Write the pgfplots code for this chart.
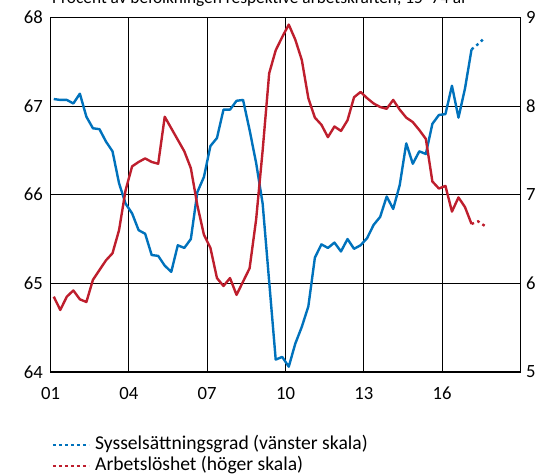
\documentclass[border=0pt]{standalone}
\usepackage{fontspec}
\setmainfont{Carlito}
\usepackage{pgfplots}
\pgfplotsset{compat=1.18}
\usepackage{pgfplotstable}
\definecolor{rbblue}{RGB}{0,114,188}
\definecolor{rbred}{RGB}{190,30,45}

% x = year (mid-quarter), b = Sysselsättningsgrad (left), r = Arbetslöshet (right)
\pgfplotstableread{
x b r
2001.125 67.08 5.85
2001.375 67.07 5.70
2001.625 67.07 5.85
2001.875 67.03 5.92
2002.125 67.14 5.82
2002.375 66.88 5.79
2002.625 66.75 6.04
2002.875 66.74 6.15
2003.125 66.60 6.26
2003.375 66.49 6.34
2003.625 66.13 6.60
2003.875 65.90 7.05
2004.125 65.79 7.32
2004.375 65.60 7.37
2004.625 65.56 7.41
2004.875 65.32 7.37
2005.125 65.31 7.35
2005.375 65.20 7.88
2005.625 65.13 7.75
2005.875 65.43 7.62
2006.125 65.40 7.49
2006.375 65.50 7.30
2006.625 66.03 6.88
2006.875 66.20 6.55
2007.125 66.55 6.40
2007.375 66.64 6.06
2007.625 66.96 5.97
2007.875 66.96 6.06
2008.125 67.06 5.87
2008.375 67.07 6.02
2008.625 66.73 6.17
2008.875 66.36 6.72
2009.125 65.90 7.50
2009.375 65.02 8.37
2009.625 64.14 8.63
2009.875 64.17 8.78
2010.125 64.06 8.92
2010.375 64.32 8.75
2010.625 64.51 8.52
2010.875 64.74 8.09
2011.125 65.29 7.87
2011.375 65.44 7.79
2011.625 65.40 7.65
2011.875 65.46 7.77
2012.125 65.36 7.72
2012.375 65.50 7.84
2012.625 65.39 8.10
2012.875 65.43 8.16
2013.125 65.51 8.09
2013.375 65.66 8.03
2013.625 65.75 7.99
2013.875 65.98 7.97
2014.125 65.84 8.07
2014.375 66.11 7.96
2014.625 66.58 7.87
2014.875 66.35 7.82
2015.125 66.49 7.73
2015.375 66.46 7.63
2015.625 66.80 7.15
2015.875 66.90 7.07
2016.125 66.91 7.10
2016.375 67.23 6.81
2016.625 66.87 6.97
2016.875 67.20 6.86
2017.125 67.64 6.67
}\data
\pgfplotstableread{
x b r
2017.125 67.64 6.67
2017.375 67.70 6.70
2017.625 67.77 6.65
}\fc

\begin{document}
\begin{tikzpicture}
\pgfplotsset{
  base/.style={
    scale only axis, width=352.5pt, height=265.875pt,
    xmin=2001, xmax=2019,
    major tick length=0pt,
    axis line style={black, line width=1.2pt},
    tick label style={font=\fontsize{14}{16}\selectfont},
    /pgf/number format/assume math mode=true,
    clip=false,
  },
}
\begin{axis}[base, name=ax,
  ymin=64, ymax=68, ytick={64,65,66,67,68},
  xtick={2001,2004,2007,2010,2013,2016},
  xticklabels={01,04,07,10,13,16},
  grid=major, major grid style={black, line width=0.75pt},
  yticklabel pos=left,
  yticklabel style={anchor=east, inner sep=0pt, xshift=-5.6pt},
  xticklabel style={anchor=base, inner sep=0pt, yshift=-20.9pt},
  legend cell align=left,
  legend image code/.code={\draw[#1] (0pt,0pt) -- (27pt,0pt); \path (30.9pt,0pt);},
  legend style={at={(0,0)}, anchor=north west, xshift=1.1pt, yshift=-47.1pt,
    draw=none, fill=none, inner sep=0pt, outer sep=0pt, row sep=0pt,
    font=\fontsize{14.7}{17}\selectfont,
    nodes={inner sep=0pt, text height=11pt, text depth=4.75pt}},
]
\addplot[rbblue, line width=1.8pt, line join=round, forget plot] table[x=x, y=b] {\data};
\addplot[rbblue, line width=1.8pt, dash pattern=on 2pt off 2.6pt, forget plot] table[x=x, y=b] {\fc};
\addlegendimage{rbblue, line width=1.5pt, dash pattern=on 2.6pt off 1.9pt}
\addlegendentry{Sysselsättningsgrad (vänster skala)}
\addlegendimage{rbred, line width=1.5pt, dash pattern=on 2.6pt off 1.9pt}
\addlegendentry{Arbetslöshet (höger skala)}
\end{axis}
\begin{axis}[base,
  ymin=5, ymax=9, ytick={5,6,7,8,9},
  axis x line=none, axis y line*=right,
  yticklabel style={anchor=west, inner sep=0pt, xshift=4.1pt},
]
\addplot[rbred, line width=1.8pt, line join=round] table[x=x, y=r] {\data};
\addplot[rbred, line width=1.8pt, dash pattern=on 2pt off 2.6pt] table[x=x, y=r] {\fc};
\end{axis}
\node[anchor=base west, inner sep=0pt, font=\fontsize{13}{15}\selectfont]
  at ([shift={(1.1pt,10.4pt)}]ax.north west) {Procent av befolkningen respektive arbetskraften, 15–74 år};
\pgfresetboundingbox
\path[use as bounding box] ([shift={(-37.875pt,-76.5pt)}]ax.south west) rectangle ([shift={(17.625pt,13.125pt)}]ax.north east);
\end{tikzpicture}
\end{document}
